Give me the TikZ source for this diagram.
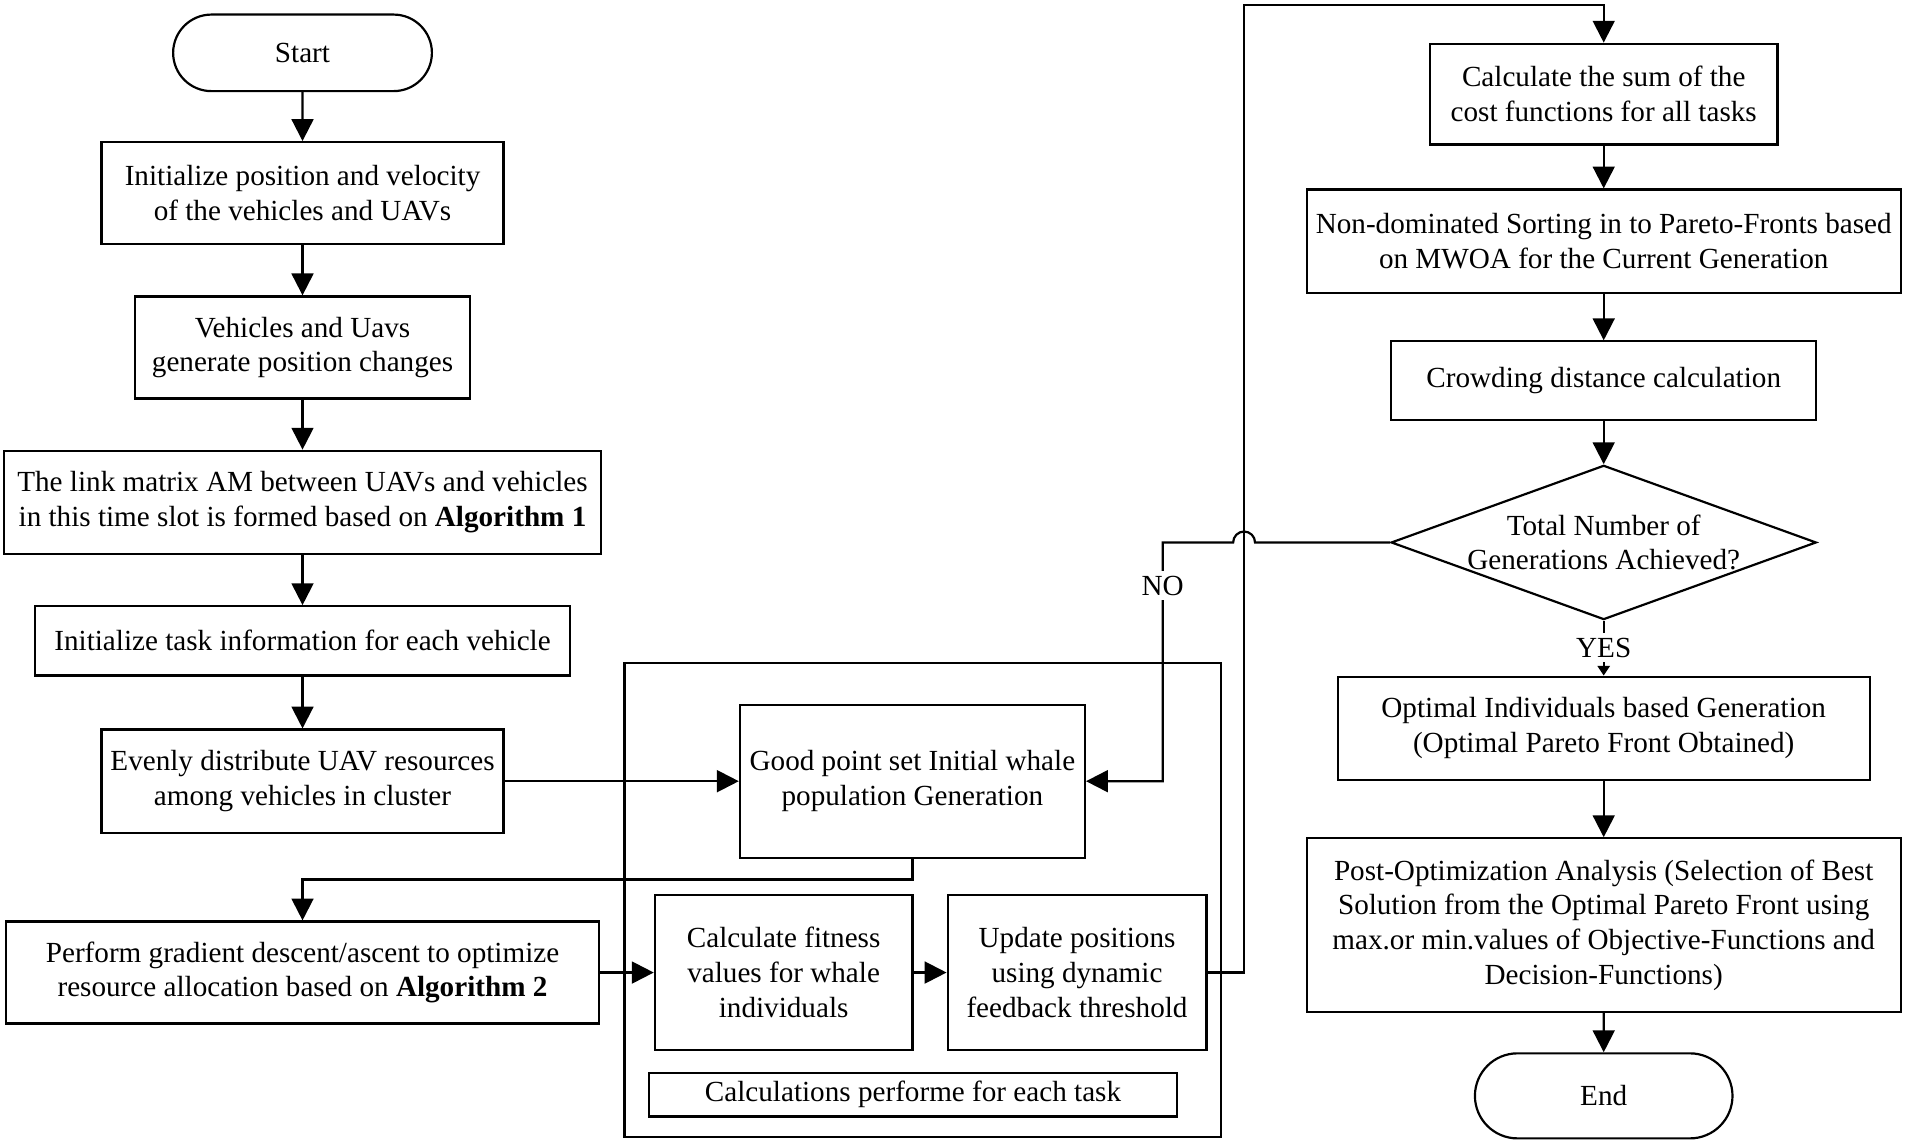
\documentclass[tikz,border=0pt]{standalone}
\usepackage{fontspec}
\setmainfont{Liberation Serif}
\usetikzlibrary{arrows.meta,shapes.geometric,shapes.misc}
\begin{document}
\begin{tikzpicture}[x=0.5pt,y=-0.5pt,
  every node/.style={font=\fontsize{12}{14.3}\selectfont},
  bx/.style={draw, line width=0.9pt, rectangle, align=center, inner sep=0pt},
  term/.style={draw, line width=0.9pt, rounded rectangle, align=center, inner sep=0pt},
  conn/.style={line width=0.9pt, -{Triangle[length=9pt,width=9pt]}},
  small/.style={line width=0.9pt, -{Triangle[length=4pt,width=5pt]}},
  lbl/.style={fill=white, inner sep=2pt},
]
\useasboundingbox (0,0) rectangle (1568,940);
% left column
\node[term, minimum width=106.5pt, minimum height=31.5pt] (start) at (249,43.5) {Start};
\node[bx, minimum width=165.5pt, minimum height=42pt] (b1) at (249,159) {Initialize position and velocity\\of the vehicles and UAVs};
\node[bx, minimum width=138pt, minimum height=42pt] (b2) at (249,286) {Vehicles and Uavs\\generate position changes};
\node[bx, minimum width=245.5pt, minimum height=42.5pt] (b3) at (249,413.5) {The link matrix AM between UAVs and vehicles\\in this time slot is formed based on \textbf{Algorithm 1}};
\node[bx, minimum width=220pt, minimum height=28.5pt] (b4) at (249,527.5) {Initialize task information for each vehicle};
\node[bx, minimum width=165.5pt, minimum height=42.5pt] (b5) at (249,643) {Evenly distribute UAV resources\\among vehicles in cluster};
\node[bx, minimum width=244pt, minimum height=42pt] (b6) at (249,800.5) {Perform gradient descent/ascent to optimize\\resource allocation based on \textbf{Algorithm 2}};
% middle container
\node[bx, minimum width=245.5pt, minimum height=195pt] (cont) at (759.5,741) {};
\node[bx, minimum width=142pt, minimum height=63pt] (good) at (751,643) {Good point set Initial whale\\population Generation};
\node[bx, minimum width=106pt, minimum height=63.5pt] (fit) at (645,800.5) {Calculate fitness\\values for whale\\individuals};
\node[bx, minimum width=106.5pt, minimum height=63.5pt] (upd) at (886.5,800.5) {Update positions\\using dynamic\\feedback threshold};
\node[bx, minimum width=217.5pt, minimum height=18pt] (calc) at (751.5,901) {Calculations performe for each task};
% right column
\node[bx, minimum width=143pt, minimum height=41.5pt] (sum) at (1320,77.5) {Calculate the sum of the\\cost functions for all tasks};
\node[bx, minimum width=244.5pt, minimum height=42.5pt] (nd) at (1320,198.5) {Non-dominated Sorting in to Pareto-Fronts based\\on MWOA for the Current Generation};
\node[bx, minimum width=175pt, minimum height=32.5pt] (crowd) at (1320,313.5) {Crowding distance calculation};
\node[draw, line width=0.9pt, diamond, minimum width=175pt, minimum height=63.5pt, inner sep=0pt] (dia) at (1320,446.5) {};
\node[align=center, inner sep=0pt] (diatxt) at (dia.center) {Total Number of\\Generations Achieved?};
\node[bx, minimum width=219pt, minimum height=42.5pt] (opt) at (1320,599.5) {Optimal Individuals based Generation\\(Optimal Pareto Front Obtained)};
\node[bx, minimum width=244.5pt, minimum height=71.5pt] (post) at (1320,761.5) {Post-Optimization Analysis (Selection of Best\\Solution from the Optimal Pareto Front using\\max.or min.values of Objective-Functions and\\Decision-Functions)};
\node[term, minimum width=106pt, minimum height=35pt] (end) at (1320,902) {End};
% connectors
\draw[conn] (start) -- (b1);
\draw[conn] (b1) -- (b2);
\draw[conn] (b2) -- (b3);
\draw[conn] (b3) -- (b4);
\draw[conn] (b4) -- (b5);
\draw[conn] (b5.east) -- (good.west);
\draw[conn] (good.south) -- ++(0,17) -| (b6.north);
\draw[conn] (b6.east) -- (fit.west);
\draw[conn] (fit.east) -- (upd.west);
\coordinate (loopTR) at (1024,4);
\draw[conn] (upd.east) -| (loopTR) -| (sum.north);
\draw[conn] (sum) -- (nd);
\draw[conn] (nd) -- (crowd);
\draw[conn] (crowd) -- (dia);
\coordinate (hopR) at (1033,446.5);
\coordinate (noX) at (957,446.5);
\draw[conn] (dia.west) -- (hopR) arc[start angle=0,end angle=180,radius=4.5pt] -- (noX) |- (good.east);
\node[lbl] (no) at (957,482) {NO};
\draw[small] (dia.south) -- (opt.north);
\node[lbl] (yes) at (1320,533) {YES};
\draw[conn] (opt) -- (post);
\draw[conn] (post) -- (end);
\end{tikzpicture}
\end{document}
